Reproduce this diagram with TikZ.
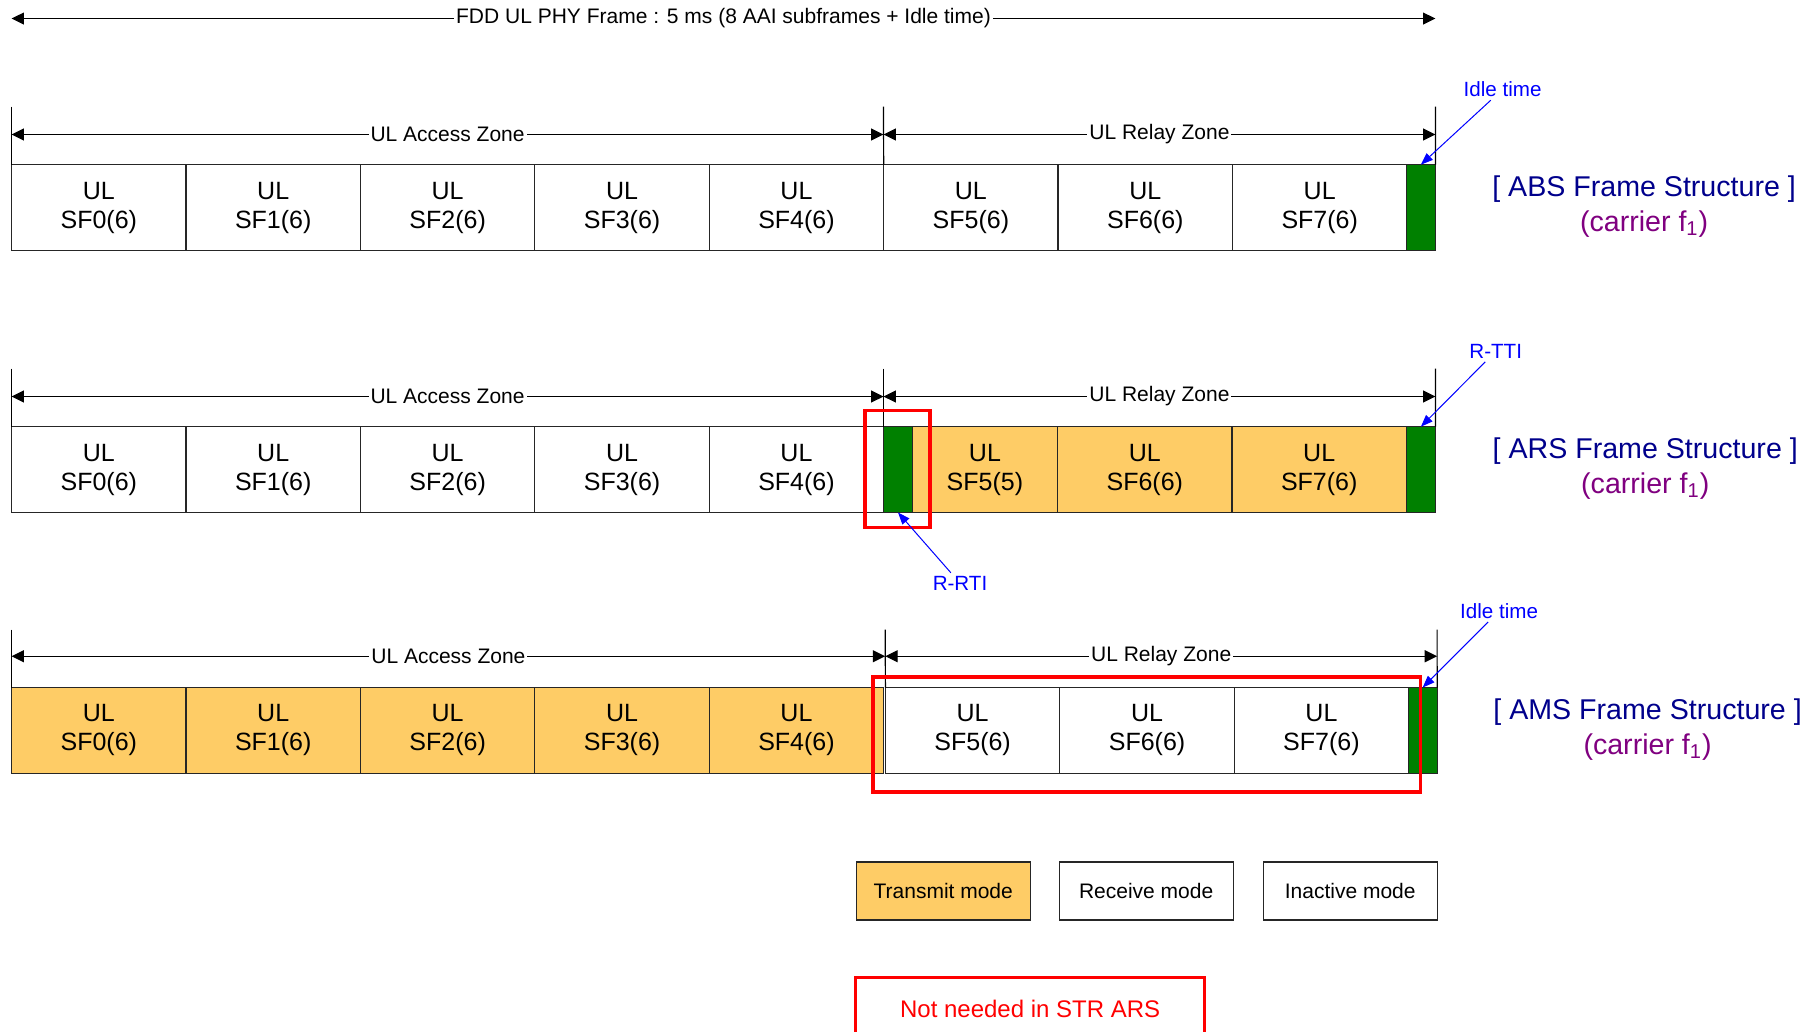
\documentclass[tikz,border=0pt]{standalone}
\usepackage{fontspec}
\setmainfont{Liberation Sans}
\usetikzlibrary{arrows.meta,calc}
\definecolor{txorange}{RGB}{254,204,102}
\definecolor{idlegreen}{RGB}{0,128,0}
\definecolor{navytext}{RGB}{0,0,140}
\definecolor{purpletext}{RGB}{128,0,128}
\definecolor{labelblue}{RGB}{0,0,255}
\definecolor{hired}{RGB}{255,0,0}
\tikzset{
  sf/.style={draw=black!85, line width=0.6pt, minimum height=42.9pt, inner sep=0pt, outer sep=0pt,
    anchor=north west, align=center, font=\fontsize{12.5}{14.5}\selectfont},
  sfw/.style={sf, fill=white, minimum width=87.2pt},
  sfo/.style={sf, fill=txorange, minimum width=87.2pt},
  gr/.style={sf, fill=idlegreen, minimum width=14.5pt},
  zone/.style={fill=white, inner sep=1pt, font=\fontsize{10.5}{12}\selectfont},
  dimarrow/.style={{Triangle[length=6.2pt,width=6pt]}-{Triangle[length=6.2pt,width=6pt]}, line width=0.6pt},
  tickline/.style={line width=0.6pt},
  frametitle/.style={align=center, font=\fontsize{14.3}{17.4}\selectfont},
  bluelab/.style={text=labelblue, font=\fontsize{10.3}{12}\selectfont, inner sep=1.5pt},
  bluearrow/.style={draw=labelblue, line width=0.5pt, -{Triangle[length=6pt,width=4.5pt]}},
  redframe/.style={draw=hired, line width=1.7pt},
  legendbox/.style={draw=black!85, line width=0.6pt, minimum width=86.96pt, minimum height=29pt,
    inner sep=0pt, anchor=north west, font=\fontsize{10.5}{12}\selectfont}
}
\begin{document}
\begin{tikzpicture}[x=0.5797pt,y=-0.5797pt]
\useasboundingbox[fill=white] (0,0) rectangle (1568,890);

% ---- top frame arrow ----
\coordinate (fl) at (10,16);
\coordinate (fr) at (1238,16);
\draw[dimarrow] (fl) -- node[zone] (ftitle) {FDD UL PHY Frame : 5 ms (8 AAI subframes + Idle time)} (fr);

% ================= Row 1: ABS =================
\foreach \i in {0,...,7}{
  \node[sfw] (a\i) at ({10+150.43*\i},142) {UL\\SF\i(6)};
}
\node[gr] (ag) at (1213,142) {};
\coordinate (atl) at (10,92);
\coordinate (atm) at (762,92);
\coordinate (atr) at (1238,92);
\draw[tickline] (atl) -- (a0.north west);
\draw[tickline] (atm) -- (a5.north west);
\draw[tickline] (atr) -- (ag.north east);
\coordinate (aal) at (10,116);
\coordinate (aam) at (762,116);
\coordinate (aar) at (1238,116);
\draw[dimarrow] (aal) -- node[zone] (azacc) {UL Access Zone} (aam);
\draw[dimarrow] (aam) -- node[zone] (azrel) {UL Relay Zone} (aar);
\node[bluelab] (idle1) at (1296,77) {Idle time};
\draw[bluearrow] (idle1) -- (ag.north);
\node[frametitle] (abs) at (1418,178) {{\color{navytext}[ ABS Frame Structure ]}\\{\color{purpletext}(carrier f\textsubscript{1})}};

% ================= Row 2: ARS =================
\foreach \i in {0,...,4}{
  \node[sfw] (b\i) at ({10+150.43*\i},368) {UL\\SF\i(6)};
}
\node[gr] (brrti) at (762,368) {};
\node[sf, fill=txorange, minimum width=72.46pt] (b5) at (787,368) {UL\\SF5(5)};
\node[sfo] (b6) at (912.15,368) {UL\\SF6(6)};
\node[sfo] (b7) at (1062.58,368) {UL\\SF7(6)};
\node[gr] (bg) at (1213,368) {};
\coordinate (btl) at (10,318);
\coordinate (btm) at (762,318);
\coordinate (btr) at (1238,318);
\draw[tickline] (btl) -- (b0.north west);
\draw[tickline] (btm) -- (brrti.north west);
\draw[tickline] (btr) -- (bg.north east);
\coordinate (bal) at (10,342);
\coordinate (bam) at (762,342);
\coordinate (bar) at (1238,342);
\draw[dimarrow] (bal) -- node[zone] (bzacc) {UL Access Zone} (bam);
\draw[dimarrow] (bam) -- node[zone] (bzrel) {UL Relay Zone} (bar);
\draw[redframe] (746,354) rectangle (802,455);
\node[bluelab] (rtti) at (1290,303) {R-TTI};
\draw[bluearrow] (rtti) -- (bg.north);
\node[bluelab] (rrti) at (828,503) {R-RTI};
\draw[bluearrow] (rrti) -- (brrti.south);
\node[frametitle] (ars) at (1419,404) {{\color{navytext}[ ARS Frame Structure ]}\\{\color{purpletext}(carrier f\textsubscript{1})}};

% ================= Row 3: AMS =================
\foreach \i in {0,...,4}{
  \node[sfo] (c\i) at ({10+150.43*\i},593) {UL\\SF\i(6)};
}
\foreach \i in {5,6,7}{
  \node[sfw] (c\i) at ({11.5+150.43*\i},593) {UL\\SF\i(6)};
}
\node[gr] (cg) at (1214.5,593) {};
\coordinate (ctl) at (10,543);
\coordinate (ctm) at (763.5,543);
\coordinate (ctr) at (1239.5,543);
\draw[tickline] (ctl) -- (c0.north west);
\draw[tickline] (ctm) -- (c5.north west);
\draw[tickline] (ctr) -- (cg.north east);
\coordinate (cal) at (10,566);
\coordinate (cam) at (763.5,566);
\coordinate (car) at (1239.5,566);
\draw[dimarrow] (cal) -- node[zone] (czacc) {UL Access Zone} (cam);
\draw[dimarrow] (cam) -- node[zone] (czrel) {UL Relay Zone} (car);
\draw[redframe] (753,584) rectangle (1225,683);
\node[bluelab] (idle3) at (1293,527) {Idle time};
\draw[bluearrow] (idle3) -- (cg.north);
\node[frametitle] (ams) at (1421,629) {{\color{navytext}[ AMS Frame Structure ]}\\{\color{purpletext}(carrier f\textsubscript{1})}};

% ================= Legend =================
\node[legendbox, fill=txorange] (ltx) at (738,743) {Transmit mode};
\node[legendbox, fill=white] (lrx) at (913,743) {Receive mode};
\node[legendbox, fill=white] (lin) at (1089,743) {Inactive mode};
\node[draw=hired, line width=1.7pt, minimum width=174.5pt, minimum height=31.3pt, inner sep=0pt,
      text=hired, font=\fontsize{12}{14}\selectfont] (notneeded) at (888.5,870) {Not needed in STR ARS};
\end{tikzpicture}
\end{document}
